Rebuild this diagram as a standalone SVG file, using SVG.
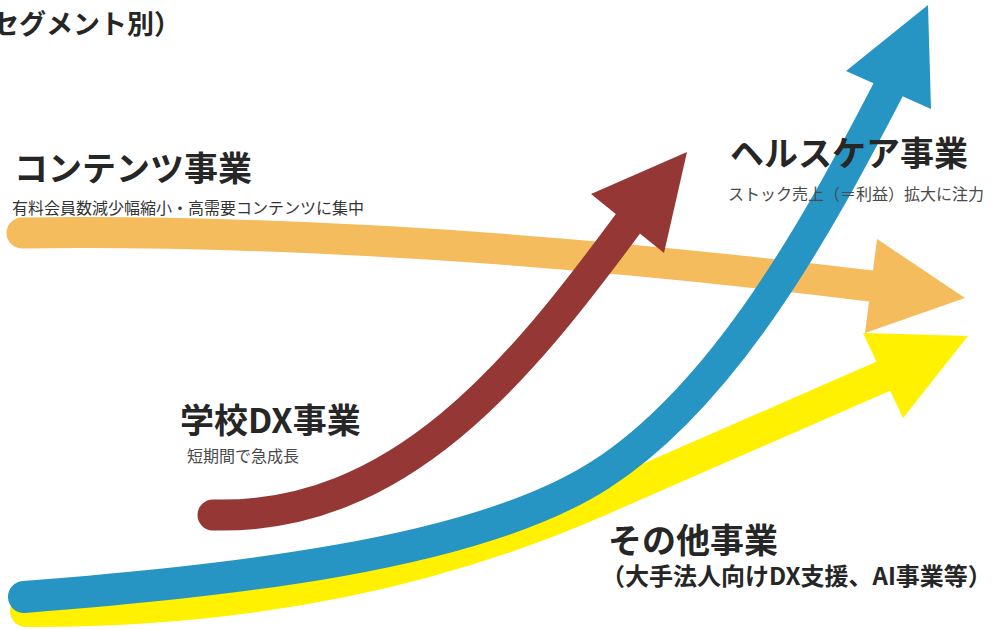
<svg xmlns="http://www.w3.org/2000/svg" width="995" height="630" viewBox="0 0 995 630">
<style>
.title{font-family:"Noto Sans CJK JP","Noto Sans",sans-serif;font-weight:700;fill:#262626}
.sub{font-family:"Noto Sans CJK JP","Noto Sans",sans-serif;font-weight:400;fill:#4a4a4a;font-size:16px}
.shaft{fill:none;stroke-linecap:round;stroke-linejoin:round}
</style>
<rect width="995" height="630" fill="#ffffff"/>
<g id="connectors">
  <g id="arrow-contents">
    <path class="shaft" d="M22,233 Q400,228 875,286.5" stroke="#F4BC5C" stroke-width="31"/>
    <polygon points="877,239 965,298 865,333" fill="#F4BC5C"/>
  </g>
  <g id="arrow-other">
    <path class="shaft" d="M26,611 C260,612 444,568 600,500 L886,375" stroke="#FFF100" stroke-width="32"/>
    <polygon points="863,333 968,336 903,418" fill="#FFF100"/>
  </g>
  <g id="arrow-healthcare">
    <path class="shaft" d="M24,597 C224,581 474,556 600,475 C726,394 819,223.5 888,90 L890,86" stroke="#2795C3" stroke-width="32"/>
    <polygon points="928,5 846,71 931,109" fill="#2795C3"/>
  </g>
  <g id="arrow-school">
    <path class="shaft" d="M213,515 C400,520 520,370 630,221" stroke="#943735" stroke-width="31"/>
    <polygon points="687,152 591,194 664,253" fill="#943735"/>
  </g>
</g>
<g id="page-title">
  <text class="title" x="-8" y="34" font-size="27">セグメント別）</text>
</g>
<g id="node-contents">
  <text class="title" x="14" y="181" font-size="34">コンテンツ事業</text>
  <text class="sub" x="12" y="214" style="fill:#333">有料会員数減少幅縮小・高需要コンテンツに集中</text>
</g>
<g id="node-healthcare">
  <text class="title" x="730" y="166" font-size="34">ヘルスケア事業</text>
  <text class="sub" x="728" y="200">ストック売上（＝利益）拡大に注力</text>
</g>
<g id="node-school">
  <text class="title" x="180" y="433" font-size="34">学校DX事業</text>
  <text class="sub" x="187" y="462">短期間で急成長</text>
</g>
<g id="node-other">
  <text class="title" x="608" y="553" font-size="34">その他事業</text>
  <text class="title" x="601" y="585" font-size="24">（大手法人向けDX支援、AI事業等）</text>
</g>
</svg>
